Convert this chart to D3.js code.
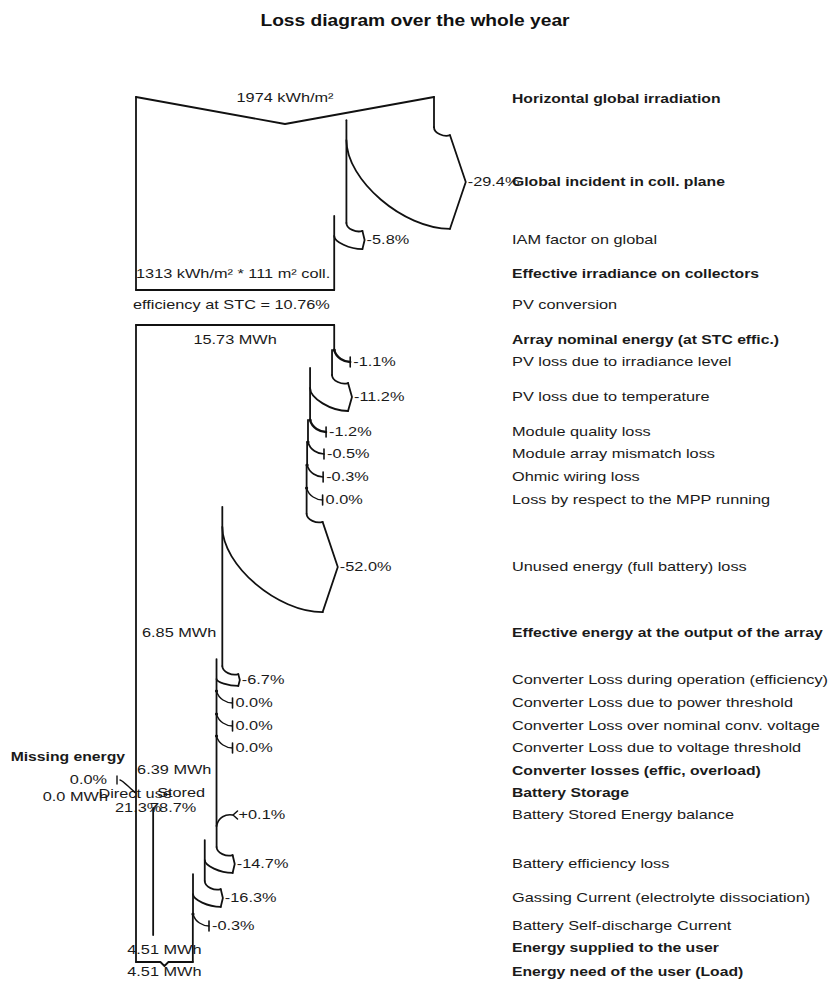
<!DOCTYPE html>
<html>
<head>
<meta charset="utf-8">
<script src="https://cdn.jsdelivr.net/npm/d3@7"></script>
<style>
  html, body { margin: 0; padding: 0; background: #fff; }
  svg { display: block; }
</style>
</head>
<body>
<div id="chart"></div>
<script>
// ---------------- data ----------------
// Irradiation stage (kWh/m²)
const irradiationLabels = ["Horizontal global irradiation", "Global incident in coll. plane", "IAM factor on global", "Effective irradiance on collectors"];
const irradiationChanges = [null, -29.4, -5.8, null];
const horizontalIrradiation = 1974;
const effectiveIrradiation = 1313;
const collectorArea = 111;      // m²
const stcEfficiency = 10.76;    // %

// PV array stage (MWh)
const arrayLabels = ["PV conversion", "Array nominal energy (at STC effic.)", "PV loss due to irradiance level", "PV loss due to temperature", "Module quality loss", "Module array mismatch loss", "Ohmic wiring loss", "Loss by respect to the MPP running", "Unused energy (full battery) loss", "Effective energy at the output of the array"];
const arrayChanges = [null, null, -1.1, -11.2, -1.2, -0.5, -0.3, 0.0, -52.0, null];
const nominalArrayEnergy = 15.73;
const arrayOutputEnergy = 6.85;

// Converter stage (MWh)
const converterLabels = ["Converter Loss during operation (efficiency)", "Converter Loss due to power threshold", "Converter Loss over nominal conv. voltage", "Converter Loss due to voltage threshold", "Converter losses (effic, overload)"];
const converterChanges = [-6.7, 0.0, 0.0, 0.0, null];
const converterOutputEnergy = 6.39;

// Battery / user stage (MWh)
const batteryLabels = ["Battery Storage", "Battery Stored Energy balance", "Battery efficiency loss", "Gassing Current (electrolyte dissociation)", "Battery Self-discharge Current", "Energy supplied to the user", "Energy need of the user (Load)"];
const batteryChanges = [null, 0.1, -14.7, -16.3, -0.3, null, null];
const directUseShare = 21.3;    // %
const storedShare = 78.7;       // %
const missingShare = 0.0;       // %
const missingEnergy = 0.0;      // MWh
const suppliedEnergy = 4.51;
const loadEnergy = 4.51;

// ---------------- layout & style ----------------
const W = 830, H = 987;
const xLeft = 136;
const xIrrRight = 434;
const labelX = 512;
const irradiationRowY = [99, 182, 240, 274];
const arrayRowY = [305, 340, 362, 397, 432, 454, 477, 500, 567, 633];
const converterRowY = [680, 703, 726, 748, 771];
const batteryRowY = [793, 815, 864, 898, 926, 948, 972];
const boldLabels = new Set([
  "Horizontal global irradiation", "Global incident in coll. plane", "Effective irradiance on collectors",
  "Array nominal energy (at STC effic.)", "Effective energy at the output of the array",
  "Converter losses (effic, overload)", "Battery Storage", "Energy supplied to the user",
  "Energy need of the user (Load)"
]);
const ink = "#111";
const fontFamily = "'Liberation Sans', Arial, Helvetica, sans-serif";

const svg = d3.select("#chart").append("svg")
  .attr("width", W).attr("height", H)
  .style("background", "#fff");

function stroke(d, w = 1.8) {
  svg.append("path").attr("d", d)
    .attr("fill", "none").attr("stroke", ink)
    .attr("stroke-width", w)
    .attr("stroke-linejoin", "round").attr("stroke-linecap", "round");
}
const line = d3.line();

function text(x, y, str, opt = {}) {
  const size = opt.size || 12;
  const bold = !!opt.bold;
  const sx = opt.sx || (bold ? 1.31 : 1.36);
  svg.append("text")
    .attr("transform", `translate(${x},${y + size * 0.36}) scale(${sx},1)`)
    .attr("text-anchor", opt.anchor || "start")
    .style("font-family", fontFamily)
    .style("font-size", size + "px")
    .style("font-weight", bold ? "bold" : "normal")
    .attr("fill", opt.fill || "#1a1a1a")
    .text(str);
}

const fmtPct = p => (p > 0 ? "+" : p < 0 ? "-" : "") + Math.abs(p).toFixed(1) + "%";
const fmtMWh = v => d3.format(".2f")(v) + " MWh";

// Value entering / leaving each step; the dominant loss absorbs rounding
// so that the stage ends on its stated value.
function stageValues(start, changes, end) {
  const factors = changes.map(c => c == null ? 1 : 1 + c / 100);
  const idx = changes.map((c, i) => c == null ? -1 : i).filter(i => i >= 0);
  if (end != null && idx.length) {
    const big = idx.reduce((a, b) => Math.abs(changes[b]) > Math.abs(changes[a]) ? b : a, idx[0]);
    const others = factors.reduce((p, f, i) => i === big ? p : p * f, 1);
    factors[big] = end / (start * others);
  }
  let v = start;
  return factors.map(f => { const nv = v * f; const r = [v, nv]; v = nv; return r; });
}

// ---------------- flow edge tracking ----------------
let edgeX, edgeTop;
function closeEdge(y) { stroke(line([[edgeX, edgeTop], [edgeX, y]])); }

function bigLoss(w, yl, pct) {
  const xr = edgeX;
  const hw = w / 2 + 3;
  const ytop = yl - hw, ybot = yl + hw;
  const xb = xr + 16;
  const xt = xb + Math.min(Math.max(w * 0.18, 1.5), 18);
  const y0 = ytop - 8;
  closeEdge(y0);
  // outer bend into the arrow
  stroke(`M${xr},${y0} C${xr},${y0 + 6} ${xb - 6},${ytop + 2} ${xb},${ytop}`);
  // arrow head
  stroke(line([[xb, ytop], [xt, yl], [xb, ybot]]));
  // inner curve back to the remaining flow
  const xi = xr - w, yi = ytop + 5;
  const k = 0.45;
  stroke(`M${xb},${ybot} C${xb - k * (xb - xi)},${ybot} ${xi},${yi + k * (ybot - yi)} ${xi},${yi}`);
  text(xt + 2, yl, fmtPct(pct));
  edgeX = xi;
  edgeTop = yi - 20;
}

function smallLoss(w, yl, pct) {
  const xr = edgeX;
  const ys = yl - 12, xb = xr + 16;
  closeEdge(ys);
  stroke(`M${xr},${ys} C${xr + 2},${ys + 8} ${xb - 6},${yl} ${xb},${yl}`, 1.3 + w * 0.5);
  svg.append("circle").attr("cx", xr).attr("cy", ys).attr("r", 1.6).attr("fill", ink);
  stroke(line([[xb, yl - 5], [xb, yl + 5]]), 1.6);
  text(xb + 3, yl, fmtPct(pct));
  edgeX = xr - w;
  edgeTop = ys;
}

function gainArrow(w, yl, pct) {
  const xr = edgeX;
  const ys = yl + 11;
  closeEdge(ys);
  stroke(`M${xr},${ys} C${xr + 2},${yl + 2} ${xr + 9},${yl - 1} ${xr + 16},${yl}`, 1.5);
  stroke(line([[xr + 21, yl - 4], [xr + 16.5, yl], [xr + 21, yl + 4]]), 1.5);
  text(xr + 22, yl, fmtPct(pct));
  edgeX = xr - w;
  edgeTop = ys;
}

function drawStage(labels, changes, rows, vals, xScale) {
  labels.forEach((lab, i) => {
    text(labelX, rows[i], lab, { bold: boldLabels.has(lab) });
    const c = changes[i];
    if (c == null) return;
    const [v0, v1] = vals[i];
    const w = xScale(v0) - xScale(v1);
    if (c > 0) gainArrow(w, rows[i], c);
    else if (w >= 4) bigLoss(w, rows[i], c);
    else smallLoss(w, rows[i], c);
  });
}

// ---------------- title ----------------
text(W / 2, 20, "Loss diagram over the whole year", { bold: true, size: 16, sx: 1.2, anchor: "middle", fill: "#111" });

// ---------------- irradiation stage ----------------
const irrX = d3.scaleLinear().domain([0, horizontalIrradiation]).range([xLeft, xIrrRight]);
const irrVals = stageValues(horizontalIrradiation, irradiationChanges, effectiveIrradiation);
const yIrrTop = irradiationRowY[0] - 2;
const irrMid = (irrX(0) + irrX(horizontalIrradiation)) / 2;
stroke(line([[irrX(0), yIrrTop], [irrMid, yIrrTop + 27], [irrX(horizontalIrradiation), yIrrTop]]));
const yIrrBottom = irradiationRowY[3] + 16;
stroke(line([[xLeft, yIrrTop], [xLeft, yIrrBottom]]));
edgeX = irrX(horizontalIrradiation);
edgeTop = yIrrTop;
drawStage(irradiationLabels, irradiationChanges, irradiationRowY, irrVals, irrX);
closeEdge(yIrrBottom);
stroke(line([[xLeft, yIrrBottom], [irrX(effectiveIrradiation), yIrrBottom]]));
text(irrMid, irradiationRowY[0] - 1, `${horizontalIrradiation} kWh/m²`, { anchor: "middle" });
text(xLeft, irradiationRowY[3], `${effectiveIrradiation} kWh/m² * ${collectorArea} m² coll.`);

// ---------------- PV array stage ----------------
const eX = d3.scaleLinear().domain([0, nominalArrayEnergy]).range([xLeft, irrX(effectiveIrradiation)]);
text(xLeft - 3, arrayRowY[0], `efficiency at STC = ${stcEfficiency.toFixed(2)}%`);
const yArrayTop = arrayRowY[1] - 15;
const yBottom = batteryRowY[5] + 14;
stroke(line([[xLeft, yArrayTop], [eX(nominalArrayEnergy), yArrayTop]]));
stroke(line([[xLeft, yArrayTop], [xLeft, yBottom]]));
edgeX = eX(nominalArrayEnergy);
edgeTop = yArrayTop;
text((xLeft + eX(nominalArrayEnergy)) / 2, arrayRowY[1], fmtMWh(nominalArrayEnergy), { anchor: "middle" });
const arrayVals = stageValues(nominalArrayEnergy, arrayChanges, arrayOutputEnergy);
drawStage(arrayLabels, arrayChanges, arrayRowY, arrayVals, eX);
text((xLeft + eX(arrayOutputEnergy)) / 2, arrayRowY[9], fmtMWh(arrayOutputEnergy), { anchor: "middle" });

// ---------------- converter stage ----------------
const convVals = stageValues(arrayOutputEnergy, converterChanges, converterOutputEnergy);
drawStage(converterLabels, converterChanges, converterRowY, convVals, eX);
text((xLeft + eX(converterOutputEnergy)) / 2 - 2, converterRowY[4] - 1, fmtMWh(converterOutputEnergy), { anchor: "middle" });

// ---------------- battery stage ----------------
const battVals = stageValues(converterOutputEnergy, batteryChanges, suppliedEnergy);
drawStage(batteryLabels, batteryChanges, batteryRowY, battVals, eX);
closeEdge(yBottom);

// direct use / stored split
const xSplit = eX(converterOutputEnergy * directUseShare / 100);
stroke(line([[xSplit, batteryRowY[0] + 15], [xSplit, yBottom - 27]]));
text(xSplit - 18, batteryRowY[0] + 1, "Direct use", { anchor: "middle" });
text(xSplit + 28, batteryRowY[0], "Stored", { anchor: "middle" });
text(xSplit - 15, batteryRowY[0] + 15, `${directUseShare.toFixed(1)}%`, { anchor: "middle" });
text(xSplit + 20, batteryRowY[0] + 15, `${storedShare.toFixed(1)}%`, { anchor: "middle" });

// missing energy entering from the left
const yMiss = converterRowY[4] + 9;
text(xLeft - 11, converterRowY[3] + 9, "Missing energy", { bold: true, anchor: "end" });
text(xLeft - 29, yMiss, fmtPct(missingShare), { anchor: "end" });
text(xLeft - 28, yMiss + 17, `${missingEnergy.toFixed(1)} MWh`, { anchor: "end" });
stroke(`M${xLeft},${yMiss + 13} C${xLeft - 6},${yMiss + 9} ${xLeft - 12},${yMiss + 1} ${xLeft - 16},${yMiss}`, 1.4);
stroke(line([[xLeft - 19, yMiss - 4], [xLeft - 19, yMiss + 4]]), 1.4);

// bottom closure with brace notch
const xEnd = eX(suppliedEnergy);
const xMid = (xLeft + xEnd) / 2;
stroke(line([[xLeft, yBottom], [xMid - 4, yBottom], [xMid, yBottom + 4], [xMid + 4, yBottom], [xEnd, yBottom]]));
text(xMid, batteryRowY[5] + 2, fmtMWh(suppliedEnergy), { anchor: "middle" });
text(xMid, batteryRowY[6], fmtMWh(loadEnergy), { anchor: "middle" });
</script>
</body>
</html>
